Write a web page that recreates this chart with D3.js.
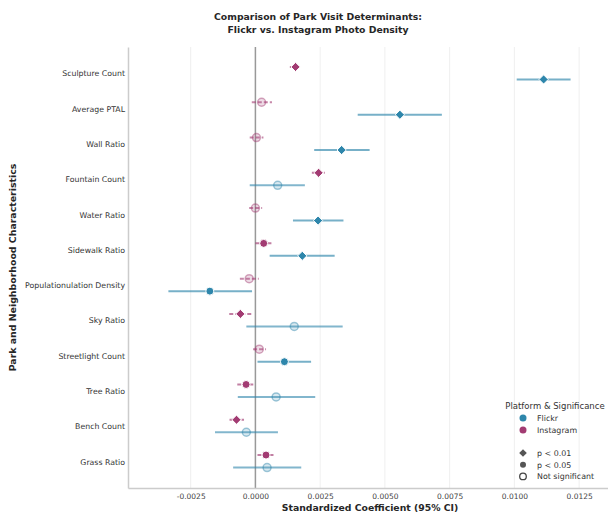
<!DOCTYPE html>
<html><head><meta charset="utf-8">
<script src="https://cdn.jsdelivr.net/npm/d3@7"></script>
<style>body{margin:0;background:#fff;}svg{display:block;font-family:"DejaVu Sans",sans-serif;}</style>
</head><body>
<svg id="chart" width="608" height="515"></svg>
<script>
const categories = ["Sculpture Count","Average PTAL","Wall Ratio","Fountain Count","Water Ratio","Sidewalk Ratio","Populationulation Density","Sky Ratio","Streetlight Count","Tree Ratio","Bench Count","Grass Ratio"];
const flickrCoef = [0.01113,0.00558,0.00333,0.00086,0.00242,0.00181,-0.00176,0.00150,0.00112,0.00080,-0.00035,0.00045];
const flickrLo   = [0.01009,0.00395,0.00227,-0.00022,0.00145,0.00055,-0.00336,-0.00035,0.00008,-0.00068,-0.00156,-0.00086];
const flickrHi   = [0.01217,0.00720,0.00441,0.00191,0.00340,0.00306,-0.00013,0.00337,0.00215,0.00231,0.00087,0.00177];
const flickrSig  = ["p01","p01","p01","ns","p01","p01","p05","ns","p05","ns","ns","ns"];
const instaCoef  = [0.00155,0.00024,0.00004,0.00244,0.00000,0.00032,-0.00024,-0.00058,0.00015,-0.00036,-0.00073,0.00041];
const instaLo    = [0.00133,-0.00014,-0.00022,0.00218,-0.00024,0.00000,-0.00060,-0.00101,-0.00009,-0.00070,-0.00100,0.00008];
const instaHi    = [0.00176,0.00064,0.00031,0.00268,0.00026,0.00064,0.00013,-0.00014,0.00041,-0.00001,-0.00044,0.00077];
const instaSig   = ["p01","ns","ns","p01","ns","p05","ns","p01","ns","p05","p01","p05"];
const xTicks = [-0.0025,0,0.0025,0.005,0.0075,0.01,0.0125];
const platforms = ["Flickr","Instagram"];
const platformColors = ["#2E86AB","#A23B72"];
const sigLabels = ["p < 0.01","p < 0.05","Not significant"];

const svg = d3.select("#chart");
const L = 128, R = 612, T = 47, B = 488;
const x = d3.scaleLinear().domain([-0.00492, 0.01377]).range([L, R]);
const y = d3.scalePoint().domain(categories).range([T, B]).padding(0.75);

const diamondPath = h => `M0,${-h}L${h},0L0,${h}L${-h},0Z`;

// title
svg.append("text").attr("x", 318).attr("y", 20).attr("text-anchor","middle")
  .attr("font-size", 9.3).attr("font-weight","bold").attr("fill","#262626")
  .text("Comparison of Park Visit Determinants:");
svg.append("text").attr("x", 318).attr("y", 32.5).attr("text-anchor","middle")
  .attr("font-size", 9.3).attr("font-weight","bold").attr("fill","#262626")
  .text("Flickr vs. Instagram Photo Density");

// grid
svg.append("g").selectAll("line").data(xTicks).join("line")
  .attr("x1", d=>x(d)).attr("x2", d=>x(d)).attr("y1", T).attr("y2", B)
  .attr("stroke","#ebebeb").attr("stroke-width",0.8);

// zero line
svg.append("line").attr("x1", x(0)).attr("x2", x(0)).attr("y1", T).attr("y2", B)
  .attr("stroke","#999").attr("stroke-width",1.5);

// axes
const xAxis = svg.append("g").attr("transform",`translate(0,${B})`)
  .call(d3.axisBottom(x).tickValues(xTicks).tickSize(0).tickPadding(6));
xAxis.select(".domain").attr("stroke","#ccc").attr("stroke-width",1.5);
xAxis.selectAll("text").attr("font-size",7.5).attr("fill","#444").attr("font-family","DejaVu Sans");
xAxis.selectAll("text").text(d => d < 0 ? "-" + d3.format(".4f")(-d) : d3.format(".4f")(d));

const yAxis = svg.append("g").attr("transform",`translate(${L},0)`)
  .call(d3.axisLeft(y).tickSize(0).tickPadding(3));
yAxis.select(".domain").attr("stroke","#ccc").attr("stroke-width",1.5);
yAxis.selectAll("text").attr("font-size",7.8).attr("fill","#333").attr("font-family","DejaVu Sans");

// axis labels
svg.append("text").attr("x", 370).attr("y", 511).attr("text-anchor","middle")
  .attr("font-size",9.3).attr("font-weight","bold").attr("fill","#262626")
  .text("Standardized Coefficient (95% CI)");
svg.append("text").attr("transform",`translate(16,${(T+B)/2}) rotate(-90)`).attr("text-anchor","middle")
  .attr("font-size",9.4).attr("font-weight","bold").attr("fill","#262626")
  .text("Park and Neighborhood Characteristics");

const series = [
  {name:"Instagram", color: platformColors[1], coef: instaCoef, lo: instaLo, hi: instaHi, sig: instaSig, off: -6.5, dash: "4,2"},
  {name:"Flickr", color: platformColors[0], coef: flickrCoef, lo: flickrLo, hi: flickrHi, sig: flickrSig, off: 6, dash: null}
];

series.forEach(s => {
  const g = svg.append("g");
  const rows = categories.map((c,i)=>({c, v:s.coef[i], lo:s.lo[i], hi:s.hi[i], sig:s.sig[i]}));
  g.selectAll("line").data(rows).join("line")
    .attr("x1", d=>x(d.lo)).attr("x2", d=>x(d.hi))
    .attr("y1", d=>y(d.c)+s.off).attr("y2", d=>y(d.c)+s.off)
    .attr("stroke", s.color).attr("stroke-width", 2)
    .attr("stroke-opacity", d => d.sig==="ns" ? 0.6 : 0.65)
    .attr("stroke-dasharray", s.dash);
  rows.forEach(d => {
    const cx = x(d.v), cy = y(d.c)+s.off;
    if (d.sig === "p01") {
      g.append("path").attr("d", diamondPath(4.6)).attr("transform",`translate(${cx},${cy})`)
        .attr("fill", s.color).attr("stroke","#fff").attr("stroke-width",1);
    } else if (d.sig === "p05") {
      g.append("circle").attr("cx",cx).attr("cy",cy).attr("r",4)
        .attr("fill", s.color).attr("stroke","#fff").attr("stroke-width",1);
    } else {
      g.append("circle").attr("cx",cx).attr("cy",cy).attr("r",4)
        .attr("fill", s.color).attr("fill-opacity",0.18)
        .attr("stroke", s.color).attr("stroke-opacity",0.45).attr("stroke-width",1.5);
    }
  });
});

// legend
const lg = svg.append("g");
lg.append("text").attr("x", 555).attr("y", 409).attr("text-anchor","middle")
  .attr("font-size",8.5).attr("fill","#333").text("Platform & Significance");
platforms.forEach((p,i)=>{
  const yy = 418 + i*12;
  lg.append("circle").attr("cx",523).attr("cy",yy).attr("r",3.5).attr("fill",platformColors[i]);
  lg.append("text").attr("x",537).attr("y",yy+3).attr("font-size",7.9).attr("fill","#333").text(p);
});
sigLabels.forEach((t,i)=>{
  const yy = 453 + i*11.7;
  if (i===0) lg.append("path").attr("d", diamondPath(3.8)).attr("transform",`translate(523,${yy})`).attr("fill","#555");
  else if (i===1) lg.append("circle").attr("cx",523).attr("cy",yy).attr("r",3).attr("fill","#555");
  else lg.append("circle").attr("cx",523).attr("cy",yy).attr("r",3.3).attr("fill","none").attr("stroke","#444").attr("stroke-width",1.3);
  lg.append("text").attr("x",537).attr("y",yy+3).attr("font-size",7.9).attr("fill","#333").text(t);
});
</script>
</body></html>
